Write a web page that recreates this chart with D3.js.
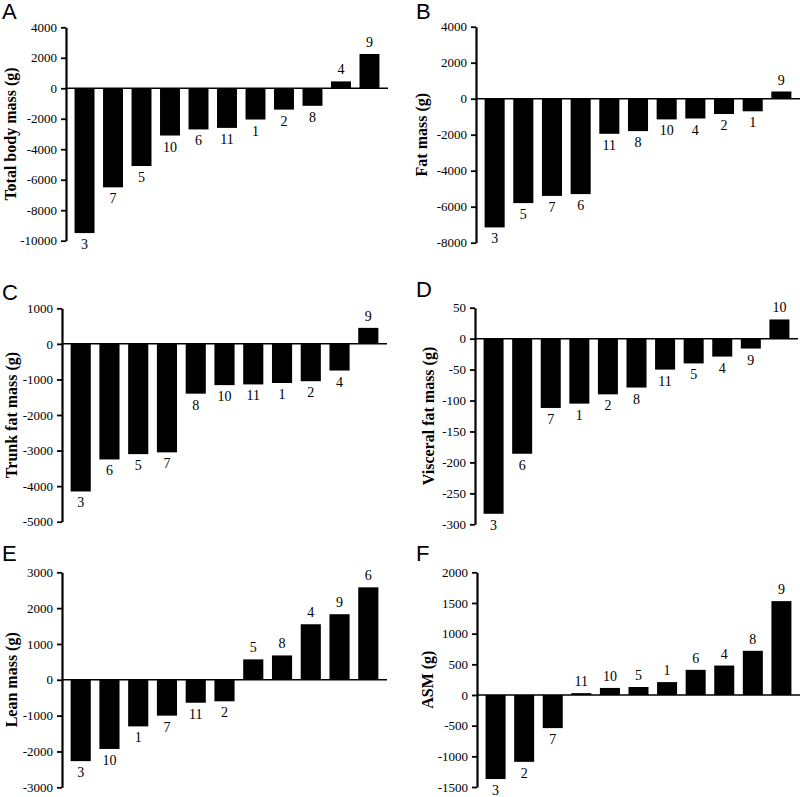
<!DOCTYPE html>
<html>
<head>
<meta charset="utf-8">
<script src="https://cdn.jsdelivr.net/npm/d3@7"></script>
<style>
  body { margin: 0; background: #fff; }
  svg { display: block; }
  .tick text { font-family: "Liberation Serif", "Times New Roman", serif; font-size: 13px; fill: #000; }
</style>
</head>
<body>
<div id="chart"></div>
<script>
const width = 800;
const height = 797;

// A - total body mass
const aIds = ["3", "7", "5", "10", "6", "11", "1", "2", "8", "4", "9"];
const aValues = [-9500, -6500, -5100, -3100, -2700, -2600, -2050, -1400, -1150, 450, 2250];
const aTicks = [4000, 2000, 0, -2000, -4000, -6000, -8000, -10000];

// B - fat mass
const bIds = ["3", "5", "7", "6", "11", "8", "10", "4", "2", "1", "9"];
const bValues = [-7150, -5800, -5400, -5300, -1950, -1800, -1150, -1100, -850, -700, 400];
const bTicks = [4000, 2000, 0, -2000, -4000, -6000, -8000];

// C - trunk fat mass
const cIds = ["3", "6", "5", "7", "8", "10", "11", "1", "2", "4", "9"];
const cValues = [-4150, -3250, -3100, -3050, -1400, -1160, -1140, -1100, -1050, -750, 450];
const cTicks = [1000, 0, -1000, -2000, -3000, -4000, -5000];

// D - visceral fat mass
const dIds = ["3", "6", "7", "1", "2", "8", "11", "5", "4", "9", "10"];
const dValues = [-283, -186, -112, -105, -90, -79, -50, -40, -29, -16, 31];
const dTicks = [50, 0, -50, -100, -150, -200, -250, -300];

// E - lean mass
const eIds = ["3", "10", "1", "7", "11", "2", "5", "8", "4", "9", "6"];
const eValues = [-2270, -1930, -1300, -1000, -640, -600, 570, 680, 1550, 1830, 2580];
const eTicks = [3000, 2000, 1000, 0, -1000, -2000, -3000];

// F - ASM
const fIds = ["3", "2", "7", "11", "10", "5", "1", "6", "4", "8", "9"];
const fValues = [-1370, -1090, -540, 30, 115, 130, 210, 410, 480, 720, 1530];
const fTicks = [2000, 1500, 1000, 500, 0, -500, -1000, -1500];

const titles = ["Total body mass (g)", "Fat mass (g)", "Trunk fat mass (g)",
                "Visceral fat mass (g)", "Lean mass (g)", "ASM (g)"];
const letters = ["A", "B", "C", "D", "E", "F"];

// layout of each panel (page pixels)
const panels = [
    { ids: aIds, values: aValues, ticks: aTicks, axisX: 66,  lineEnd: 388, yTop: 27.3,  yBot: 240.7, titleOff: 50, lx: 2,   ly: 19 },
    { ids: bIds, values: bValues, ticks: bTicks, axisX: 476, lineEnd: 800, yTop: 26.7,  yBot: 242.7, titleOff: 49, lx: 416, ly: 19 },
    { ids: cIds, values: cValues, ticks: cTicks, axisX: 62,  lineEnd: 387, yTop: 308.3, yBot: 521.7, titleOff: 45, lx: 2,   ly: 300 },
    { ids: dIds, values: dValues, ticks: dTicks, axisX: 475, lineEnd: 798, yTop: 307.7, yBot: 524.3, titleOff: 41, lx: 416, ly: 297 },
    { ids: eIds, values: eValues, ticks: eTicks, axisX: 62,  lineEnd: 387, yTop: 572.3, yBot: 787.3, titleOff: 45, lx: 2,   ly: 561 },
    { ids: fIds, values: fValues, ticks: fTicks, axisX: 477, lineEnd: 800, yTop: 572.3, yBot: 787,   titleOff: 44, lx: 416, ly: 561 }
];

const svg = d3.select('#chart')
    .append('svg')
    .attr('width', width)
    .attr('height', height);

panels.forEach((p, i) => {
    const data = p.ids.map((id, k) => ({ id: id, value: p.values[k] }));
    const g = svg.append('g');

    const xScale = d3.scaleBand()
        .domain(p.ids)
        .range([p.axisX, p.lineEnd])
        .paddingInner(0.3)
        .paddingOuter(0.3);

    const yScale = d3.scaleLinear()
        .domain([d3.max(p.ticks), d3.min(p.ticks)])
        .range([p.yTop, p.yBot]);

    // bars
    g.selectAll('rect')
        .data(data)
        .enter()
        .append('rect')
        .attr('x', d => xScale(d.id))
        .attr('y', d => Math.min(yScale(d.value), yScale(0)))
        .attr('width', xScale.bandwidth())
        .attr('height', d => Math.abs(yScale(d.value) - yScale(0)))
        .attr('fill', '#000');

    // zero line
    g.append('line')
        .attr('x1', p.axisX)
        .attr('x2', p.lineEnd)
        .attr('y1', yScale(0))
        .attr('y2', yScale(0))
        .attr('stroke', '#000')
        .attr('stroke-width', 1.5);

    // y axis
    const yAxis = d3.axisLeft(yScale)
        .tickValues(p.ticks)
        .tickSize(5)
        .tickSizeOuter(0)
        .tickPadding(4)
        .tickFormat(d => String(d));
    const ax = g.append('g')
        .attr('transform', `translate(${p.axisX},0)`)
        .call(yAxis);
    ax.select('.domain').attr('stroke-width', 2.2);
    ax.selectAll('.tick line').attr('stroke-width', 1.8);

    // bar labels
    g.selectAll('text.lbl')
        .data(data)
        .enter()
        .append('text')
        .attr('class', 'lbl')
        .attr('x', d => xScale(d.id) + xScale.bandwidth() / 2)
        .attr('y', d => d.value < 0 ? yScale(d.value) + 16 : yScale(d.value) - 7)
        .attr('text-anchor', 'middle')
        .style('font-family', '"Liberation Serif", "Times New Roman", serif')
        .style('font-size', '14px')
        .text(d => d.id);

    // axis title
    const cy = (p.yTop + p.yBot) / 2;
    g.append('text')
        .attr('transform', `translate(${p.axisX - p.titleOff},${cy}) rotate(-90)`)
        .attr('text-anchor', 'middle')
        .style('font-family', '"Liberation Serif", "Times New Roman", serif')
        .style('font-weight', 'bold')
        .style('font-size', '16px')
        .text(titles[i]);

    // panel letter
    g.append('text')
        .attr('x', p.lx)
        .attr('y', p.ly)
        .style('font-family', '"Liberation Sans", Arial, sans-serif')
        .style('font-size', '22px')
        .text(letters[i]);
});
</script>
</body>
</html>
